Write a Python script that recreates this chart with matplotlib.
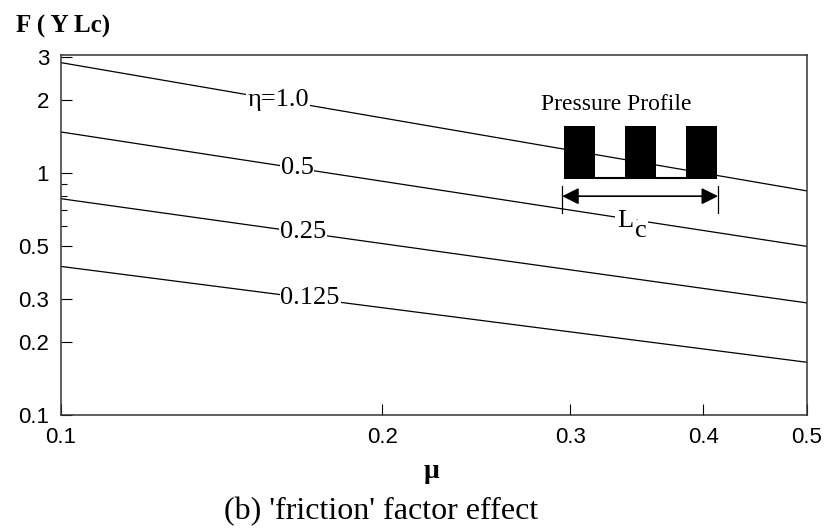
import numpy as np
import matplotlib
matplotlib.use("Agg")
import matplotlib.pyplot as plt
from matplotlib.patches import Rectangle

# friction factor range and F at its two ends, for each eta
mu_ends = [0.1, 0.5]
eta_labels = ['\u03b7=1.0', '0.5', '0.25', '0.125']
f_values = [[2.84, 0.84],
            [1.47, 0.496],
            [0.78, 0.29],
            [0.41, 0.165]]
label_mu = [0.1597, 0.1664, 0.1685, 0.1712]

xticks = [0.1, 0.2, 0.3, 0.4, 0.5]
yticks = [0.1, 0.2, 0.3, 0.5, 1, 2, 3]
yminor = [0.6, 0.7, 0.8, 0.9]

serif = 'Liberation Serif'
sans = 'Liberation Sans'

fig = plt.figure(figsize=(8.26, 5.30), dpi=100)
ax = fig.add_axes([0.0738, 0.217, 0.903, 0.679])

for vals, lab, lm in zip(f_values, eta_labels, label_mu):
    ax.plot(mu_ends, vals, color='black', lw=0.9)
    # put label on the line (straight in log-log)
    t = np.log(lm / mu_ends[0]) / np.log(mu_ends[1] / mu_ends[0])
    ly = np.exp(np.log(vals[0]) + t * (np.log(vals[1]) - np.log(vals[0])))
    ax.text(lm, ly, lab, family=serif, fontsize=19, ha='center', va='center',
            bbox=dict(facecolor='white', edgecolor='none', pad=0.5))

ax.set_xscale('log')
ax.set_yscale('log')
ax.set_xlim(0.1, 0.5)
ax.set_ylim(0.1, 3.05)
ax.minorticks_off()
ax.set_xticks(xticks)
ax.set_xticklabels([str(v) for v in xticks])
ax.set_yticks(yticks)
ax.set_yticklabels([str(v) for v in yticks])
ax.set_yticks(yminor, minor=True)
ax.set_yticklabels([], minor=True)
ax.tick_params(which='major', direction='in', length=8, width=0.8,
               labelsize=16, pad=8.5, labelfontfamily=sans)
ax.tick_params(which='minor', direction='in', length=4, width=0.8)
for s in ax.spines.values():
    s.set_linewidth(1.1)
    s.set_color('#333333')

# pressure profile inset
tr = ax.transAxes
for x0 in [0.674, 0.756, 0.838]:
    ax.add_patch(Rectangle((x0, 0.656), 0.042, 0.147, transform=tr,
                           facecolor='black', edgecolor='none'))
ax.plot([0.716, 0.838], [0.659, 0.659], transform=tr, color='black', lw=1.5)
ax.text(0.745, 0.864, 'Pressure Profile', transform=tr, family=serif,
        fontsize=17, ha='center', va='center')
ax.annotate('', xy=(0.881, 0.608), xytext=(0.672, 0.608), xycoords=tr,
            arrowprops=dict(arrowstyle='<|-|>', color='black', lw=1.2,
                            mutation_scale=25, shrinkA=0, shrinkB=0))
for xv in [0.672, 0.881]:
    ax.plot([xv, xv], [0.561, 0.636], transform=tr, color='black', lw=0.9)
# L with a large subscript c
ax.text(0.757, 0.54, 'L', transform=tr, family=serif, fontsize=19,
        ha='center', va='center',
        bbox=dict(facecolor='white', edgecolor='none', pad=1.5))
ax.text(0.778, 0.51, 'c', transform=tr, family=serif, fontsize=19,
        ha='center', va='center',
        bbox=dict(facecolor='white', edgecolor='none', pad=0.5))

fig.text(16 / 826, 1 - 26 / 530, 'F ( Y Lc)', family=serif, weight='bold',
         fontsize=18, ha='left', va='center')
fig.text(432 / 826, 1 - 472 / 530, '\u03bc', family=serif, weight='bold',
         fontsize=20, ha='center', va='center')
fig.text(381 / 826, 1 - 512 / 530, "(b) 'friction' factor effect", family=serif,
         fontsize=23, ha='center', va='center')

fig.savefig('out.png', dpi=100)
